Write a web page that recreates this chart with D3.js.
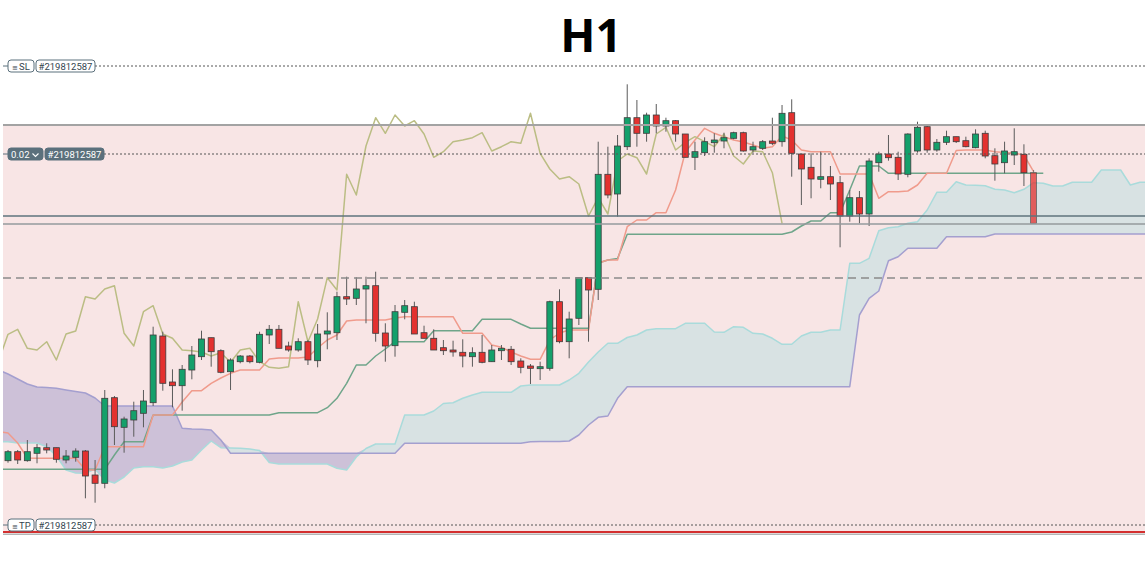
<!DOCTYPE html>
<html lang="en">

<head>
  <meta charset="UTF-8">
  <title>H1</title>
  <style>
    body { margin: 0; background: #fff; }
  </style>
</head>

<body>
  <svg id="svg" width="1145" height="565"></svg>

  <script src="https://d3js.org/d3.v7.min.js"></script>
  <script>
    // candles, oldest first (price in chart points)
    const open = [72.3, 81.3, 72.3, 79.7, 85.3, 85.3, 73, 75.7, 82, 58,
      49.7, 135.3, 105.7, 113, 119.7, 130.3, 197, 151, 147.3, 163,
      176.3, 195.3, 182.3, 161.3, 171.3, 177, 170.7, 198, 203.7, 187,
      183, 191.3, 172.3, 199, 200.3, 236.3, 234.7, 244, 247.3, 200,
      187.3, 220.7, 226.3, 200.3, 194.7, 185.3, 183, 180.7, 176.3, 180.7,
      171.3, 182.3, 183.7, 172, 167, 164.3, 164.7, 231.3, 191.3, 214.7,
      255.3, 243.7, 358.7, 339, 386.3, 415.3, 399.7, 418, 407, 412.3,
      399, 375.7, 380.3, 390.3, 392, 394.7, 400.3, 383, 384.7, 392,
      391.3, 420.3, 379, 365.7, 353.7, 356.3, 350.3, 317, 335.3, 319,
      370.3, 379, 375.7, 358.7, 382, 406.3, 383, 390.7, 396.3, 392.3,
      385.3, 399.7, 377.3, 370.3, 378, 378.7, 360.3]
    const high = [83, 83, 93, 89, 89.7, 85.3, 83, 84.7, 83, 73,
      143, 137, 116.3, 131.3, 143, 206.3, 201.3, 163.7, 168, 187,
      202.3, 195.3, 183.7, 174.7, 178, 178, 201.3, 208, 208, 191.3,
      194.7, 193, 209, 220.7, 241.3, 256.3, 255.7, 256.3, 261.3, 209.7,
      228, 233, 231.3, 207.3, 203.7, 193, 192.3, 193.7, 185.7, 198,
      188, 188, 187, 174.7, 169, 171.3, 232.3, 243.7, 221.3, 255.3,
      255.3, 391.3, 386.3, 398, 448.7, 433, 420.3, 429, 415.3, 413,
      399, 391.3, 395.7, 399.7, 400.3, 401.3, 401.3, 391.3, 393, 415.3,
      428, 433.7, 379, 379.7, 381.3, 367, 357, 343, 342, 374.7,
      381.3, 398, 381.3, 399.7, 411.3, 407, 394, 402.3, 396.3, 396.3,
      403.7, 402.3, 384.7, 391.3, 404.7, 388.7, 363]
    const low = [70.3, 69, 71.3, 69.7, 79.7, 70.3, 69.7, 71.3, 34.7, 30.3,
      44.7, 88, 80.3, 96.3, 105.7, 127, 142.3, 125.7, 122.3, 153.7,
      173, 166.3, 159.7, 143, 169.7, 169.7, 169.7, 189, 184.7, 181.3,
      181.3, 168, 165.7, 183.7, 193, 228, 228, 209.7, 191.3, 171.3,
      176.3, 213.7, 199, 194.7, 183, 178, 176.3, 165.7, 166.3, 169.7,
      171.3, 173, 168, 159.7, 149, 153, 162.3, 189.7, 174.7, 208,
      191.3, 233, 334.7, 316.3, 383, 386.3, 391.3, 399.7, 401.3, 391.3,
      375.7, 363, 377, 380.3, 384.7, 393.7, 381.3, 380.3, 383, 388,
      386.3, 356.3, 328, 334.7, 344.7, 333, 285.7, 311.3, 309.7, 307,
      361.3, 372.3, 353, 355.7, 380.3, 380.3, 381.3, 388, 390, 385.7,
      384.7, 374.7, 352.3, 359.7, 368, 347, 309.7]
    const close = [81.3, 73, 81.3, 85.3, 83, 73.7, 77, 82, 57, 49.7,
      134.7, 106.3, 114, 122.3, 132, 198, 149.7, 147.3, 163.7, 178,
      194, 181.3, 160.7, 173, 177, 171.3, 198.7, 203.7, 184.7, 183,
      191.3, 173, 199, 202, 236.3, 234, 244, 247.3, 199.7, 187,
      221.3, 227.3, 199, 194.7, 183, 182.3, 181, 177, 180.3, 170.7,
      183, 184.7, 171.3, 165.7, 164.7, 166.3, 231.3, 191.3, 214, 255.3,
      243, 358.7, 338, 387, 415.3, 399.7, 418, 407, 412.3, 399,
      375.7, 381.3, 391.3, 393, 395.3, 400.3, 382, 386.3, 391.3, 389.7,
      419.7, 379.7, 364, 354, 356.3, 349, 317, 335.3, 319, 372,
      379, 375.3, 359, 399, 405.7, 383, 390.7, 396.3, 391.3, 386.3,
      399, 377, 369, 382, 381.3, 360.3, 309.7]

    // ichimoku lines, first value is bar -1
    const tenkan = [101.3, 100, 90, 75, 74.7, 74.7, 74.7, 74.7, 74.7, 63, 63,
      86.3, 86.3, 86.3, 86.3, 86.3, 118, 118, 118, 131, 142.3,
      142.3, 149.7, 155, 159.7, 163, 163, 163, 174, 175, 175,
      175, 176, 185, 193, 198, 212, 213, 213, 213, 213,
      215, 216.3, 216.3, 216.3, 216.3, 216.3, 216.3, 199.7, 199.7, 199.7,
      188, 185.7, 181, 177, 173.7, 173.7, 193, 200, 203, 203,
      203, 270, 273, 273, 306.3, 313, 313, 320.3, 320.3, 343,
      381, 393, 404.7, 399.7, 396.3, 393, 391, 388, 384.7, 386.3,
      397, 393, 383, 381.3, 381.3, 381.3, 359, 359, 359, 359,
      334.7, 341.3, 341.3, 342, 348, 359.7, 359.7, 359.7, 382.5, 383,
      383, 383, 381.3, 380.5, 379.7, 378, 361.3]
    const kijun = [63.7, 63.7, 63.7, 63.7, 63.7, 63.7, 63.7, 63.7, 63.7, 63.7, 63.7,
      63.7, 78, 91.3, 91.3, 91.3, 118, 118, 118, 118, 118,
      118, 118, 118, 118, 118, 118, 118, 118, 120.3, 120.3,
      120.3, 120.3, 120.3, 125.3, 134.7, 149.7, 168, 168, 177, 184,
      191.3, 191.3, 191.3, 191.3, 202.3, 202.3, 202.3, 202.3, 202.3, 213.7,
      213.7, 213.7, 213.7, 209, 204.7, 204.7, 204.7, 204.7, 204.7, 204.7,
      204.7, 270, 273, 274.5, 298.7, 298.7, 298.7, 298.7, 298.7, 298.7,
      298.7, 298.7, 298.7, 298.7, 298.7, 298.7, 298.7, 298.7, 298.7, 298.7,
      298.7, 301, 307, 312, 312, 320.3, 320.3, 343, 367, 367,
      367, 359.7, 359.7, 359.7, 359.7, 359.7, 359.7, 359.7, 359.7, 359.7,
      359.7, 359.7, 359.7, 359.7, 359.7, 359.7, 359.7, 359.7]
    // cloud spans, bar -1 to bar 118
    const senkouA = [91.3, 91.3, 90, 90, 90, 86.3, 77, 63, 60, 59.7, 64,
      53, 50, 56, 65, 66.3, 66.3, 65, 67, 71, 73,
      83, 92, 85.3, 85, 84.7, 84, 82.5, 70.5, 69, 69,
      69, 69, 69, 69, 64.7, 63, 76, 84.5, 89, 89,
      89, 118, 118, 118, 122, 129.5, 130.3, 134.7, 138, 140.7,
      140.7, 140.7, 140.7, 147, 148, 148, 148, 148, 153, 159.7,
      171, 181, 189.7, 189.7, 195.5, 198, 203, 204.3, 204.3, 204.3,
      209.7, 209.7, 209.7, 201, 200.7, 206.3, 205.7, 199.7, 199, 194.7,
      188.7, 188.7, 197, 200.7, 200.7, 203, 203, 269.7, 269.7, 274.7,
      302.3, 305.3, 306.3, 309.7, 311.3, 323, 340.7, 340.7, 351.3, 348,
      347.7, 347.3, 343.7, 343, 340.3, 343.7, 350.3, 349.7, 347, 347,
      350.7, 350.7, 350.7, 363, 363, 363, 348, 350.7, 350.7]
    const senkouB = [163, 159, 154, 149, 146, 145.5, 144.7, 143, 141.5, 140, 135,
      127, 127, 127, 127, 127, 127, 127, 127, 104.7, 104,
      103.7, 103, 93, 79.7, 79.7, 79.7, 79.7, 79.7, 79.7, 79.7,
      79.7, 79.7, 79.7, 79.7, 79.7, 79.7, 79.7, 79.7, 79.7, 79.7,
      79.7, 89.7, 89.7, 89.7, 89.7, 89.7, 89.7, 89.7, 89.7, 89.7,
      89.7, 89.7, 89.7, 89.7, 91.3, 91.5, 91.5, 91.5, 92, 98,
      108, 115.7, 117, 134.7, 146.3, 146.3, 146.3, 146.3, 146.3, 146.3,
      146.3, 146.3, 146.3, 146.3, 146.3, 146.3, 146.3, 146.3, 146.3, 146.3,
      146.3, 146.3, 146.3, 146.3, 146.3, 146.3, 146.3, 146.3, 218, 234.7,
      242, 272.3, 276.3, 284.7, 284.7, 284.7, 284.7, 296.3, 296.3, 296.3,
      296.3, 296.3, 299, 299, 299, 299, 299, 299, 299, 299,
      299, 299, 299, 299, 299, 299, 299, 299, 299]

    // order lines
    const orderId = '#219812587'
    const slLevel = 467
    const lotLabel = '0.02'
    const lotLevel = 379
    const tpLevel = 8
    const entryLevel = 255
    const rangeTop = 408
    const rangeBottom = 1
    const priceLines = [317, 309]
    const title = 'H1'

    const svg = d3.select('#svg')
    const W = 1145, left = 3

    const xScale = d3.scaleLinear()
      .domain([0, 106])
      .range([8, 1033.6])
    const yScale = d3.scaleLinear()
      .domain([0, 480])
      .range([533, 53])

    svg.append('defs').append('clipPath').attr('id', 'plot')
      .append('rect').attr('x', left).attr('y', 0).attr('width', W - left).attr('height', 565)

    // pink position range
    svg.append('rect')
      .attr('x', left).attr('y', yScale(rangeTop))
      .attr('width', W - left).attr('height', yScale(rangeBottom) - yScale(rangeTop))
      .attr('fill', '#f8e5e5')

    const plot = svg.append('g').attr('clip-path', 'url(#plot)')

    // cloud
    const cloud = senkouA.map((a, i) => ({ i: i - 1, a: a, b: senkouB[i] }))
    plot.append('path').datum(cloud)
      .attr('fill', '#d8e2e3')
      .attr('d', d3.area().x(d => xScale(d.i)).y0(d => yScale(d.b)).y1(d => yScale(Math.max(d.a, d.b))))
    plot.append('path').datum(cloud)
      .attr('fill', '#cdc1d8')
      .attr('d', d3.area().x(d => xScale(d.i)).y0(d => yScale(d.a)).y1(d => yScale(Math.max(d.a, d.b))))

    const drawLine = (pts, color, width) => plot.append('path').datum(pts)
      .attr('fill', 'none').attr('stroke', color).attr('stroke-width', width)
      .attr('stroke-linejoin', 'round')
      .attr('d', d3.line().x(d => xScale(d[0])).y(d => yScale(d[1])))

    drawLine(cloud.map(d => [d.i, d.a]), '#a9dbdb', 1.5)
    drawLine(cloud.map(d => [d.i, d.b]), '#a49fcf', 1.5)

    // horizontal price lines
    svg.append('line').attr('x1', left).attr('x2', W)
      .attr('y1', yScale(rangeTop)).attr('y2', yScale(rangeTop))
      .attr('stroke', '#a3a3a3').attr('stroke-width', 2)
    priceLines.forEach((p, k) => {
      svg.append('line').attr('x1', left).attr('x2', W)
        .attr('y1', yScale(p)).attr('y2', yScale(p))
        .attr('stroke', k === 0 ? '#5f737d' : '#949a9c').attr('stroke-width', 1.5)
    })
    svg.append('line').attr('x1', left).attr('x2', W)
      .attr('y1', yScale(entryLevel)).attr('y2', yScale(entryLevel))
      .attr('stroke', '#8a8a8a').attr('stroke-width', 1.5).attr('stroke-dasharray', '8,5')

    // ichimoku lines
    drawLine(kijun.map((v, i) => [i - 1, v]), '#6fa58a', 1.5)
    drawLine(tenkan.map((v, i) => [i - 1, v]), '#f09b8c', 1.5)
    drawLine(close.slice(25).map((v, i) => [i - 1, v]), '#bbbd84', 1.5)

    // candles
    const bars = close.map((c, i) => ({ i: i, o: open[i], h: high[i], l: low[i], c: c }))
    const candle = plot.selectAll('g.candle')
      .data(bars)
      .enter()
      .append('g')
      .attr('opacity', d => d.i === bars.length - 1 ? 0.75 : 1)
    candle.append('line')
      .attr('x1', d => xScale(d.i)).attr('x2', d => xScale(d.i))
      .attr('y1', d => yScale(d.h)).attr('y2', d => yScale(d.l))
      .attr('stroke', '#5a5a5a').attr('stroke-width', 1)
    candle.append('rect')
      .attr('x', d => xScale(d.i) - 3)
      .attr('y', d => yScale(Math.max(d.o, d.c)))
      .attr('width', 6)
      .attr('height', d => Math.max(1.5, Math.abs(yScale(d.o) - yScale(d.c))))
      .attr('fill', d => d.c >= d.o ? '#14a06b' : '#e3312f')
      .attr('stroke', '#3d3d3d').attr('stroke-width', 0.8)

    // bottom lines
    svg.append('line').attr('x1', left).attr('x2', W)
      .attr('y1', yScale(rangeBottom) + 2.3).attr('y2', yScale(rangeBottom) + 2.3)
      .attr('stroke', '#b5b5b5').attr('stroke-width', 1.5)
    svg.append('line').attr('x1', left).attr('x2', W)
      .attr('y1', yScale(rangeBottom)).attr('y2', yScale(rangeBottom))
      .attr('stroke', '#d32f2f').attr('stroke-width', 2)

    // order labels
    const font = 'Roboto, "DejaVu Sans", sans-serif'
    function orderLine(level, tag, dark) {
      const y = yScale(level)
      const ink = dark ? '#fff' : '#34444e'
      const fill = dark ? '#5b707c' : '#fff'
      const w1 = dark ? 35 : 26
      const x2 = 8 + w1 + 2
      const end = x2 + 59
      svg.append('line').attr('x1', end).attr('x2', W).attr('y1', y).attr('y2', y)
        .attr('stroke', '#555').attr('stroke-width', 1).attr('stroke-dasharray', '2,2')
      svg.append('line').attr('x1', left).attr('x2', 8).attr('y1', y).attr('y2', y)
        .attr('stroke', '#5b707c').attr('stroke-width', 1)
      svg.append('rect').attr('x', 8).attr('y', y - 6).attr('width', w1).attr('height', 12).attr('rx', 3)
        .attr('fill', fill).attr('stroke', '#5b707c').attr('stroke-width', 1)
      svg.append('rect').attr('x', x2).attr('y', y - 6).attr('width', 59).attr('height', 12).attr('rx', 3)
        .attr('fill', fill).attr('stroke', '#5b707c').attr('stroke-width', 1)
      if (dark) {
        svg.append('text').attr('x', 11).attr('y', y + 3.5).text(tag)
          .attr('font-family', font).attr('font-size', 9.5).attr('fill', ink)
        svg.append('path').attr('d', `M32.5,${y - 0.5} l3,3 l3,-3`)
          .attr('fill', 'none').attr('stroke', ink).attr('stroke-width', 1.1)
      } else {
        svg.append('text').attr('x', 12).attr('y', y + 3.5).text('≡')
          .attr('font-family', font).attr('font-size', 7).attr('fill', ink)
        svg.append('text').attr('x', 19).attr('y', y + 3.5).text(tag)
          .attr('font-family', font).attr('font-size', 9.5).attr('fill', ink)
      }
      svg.append('text').attr('x', x2 + 29.5).attr('y', y + 3.5).text(orderId)
        .attr('text-anchor', 'middle')
        .attr('font-family', font).attr('font-size', 9.5).attr('fill', ink)
    }
    orderLine(slLevel, 'SL', false)
    orderLine(lotLevel, lotLabel, true)
    orderLine(tpLevel, 'TP', false)

    svg.append('text')
      .attr('x', 591).attr('y', 52)
      .attr('text-anchor', 'middle')
      .attr('font-family', '"Open Sans", sans-serif')
      .attr('font-weight', 700).attr('font-size', 46)
      .attr('fill', '#000')
      .text(title)
  </script>
</body>

</html>
